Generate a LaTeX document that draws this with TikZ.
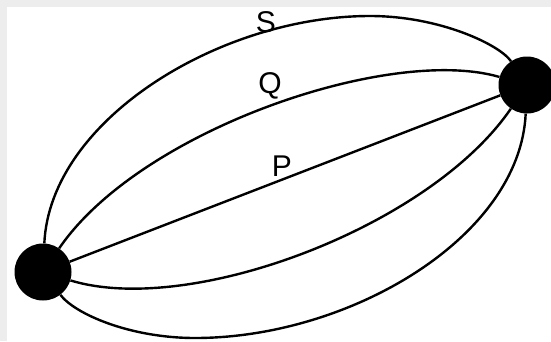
\documentclass[tikz,border=0pt]{standalone}
\usepackage{fontspec}
\setmainfont{Liberation Sans}
\usepackage{tikz}

\begin{document}
\begin{tikzpicture}[x=1pt, y=-1pt,
  every node/.style={font=\fontsize{30}{33}\selectfont, inner sep=0pt},
  dot/.style={circle, fill=black, minimum size=57pt},
  arc/.style={line width=2.4pt}]
\useasboundingbox (0,0) rectangle (551,341);
\fill[black!7] (0,0) rectangle (551,341);
\fill[white] (7,7) rectangle (551,341);
\node[dot] (l) at (43,272) {};
\node[dot] (r) at (527,85) {};
% outer arcs pass a turning point
\coordinate (top) at (370,16);
\coordinate (bot) at (195,338);
\draw[arc] (l) .. controls (50,120) and (220,16) .. (top)
  .. controls (440,16) and (500,45) .. (r);
\draw[arc] (l) .. controls (140,130) and (390,45) .. (r);
\draw[arc] (l) -- (r);
\draw[arc] (l) .. controls (190,317) and (430,227) .. (r);
\draw[arc] (l) .. controls (75,314) and (130,338) .. (bot)
  .. controls (350,338) and (520,237) .. (r);
\node (labS) at (266,22) {S};
\node (labQ) at (270,86) {Q};
\node (labP) at (282,166) {P};
\end{tikzpicture}
\end{document}
